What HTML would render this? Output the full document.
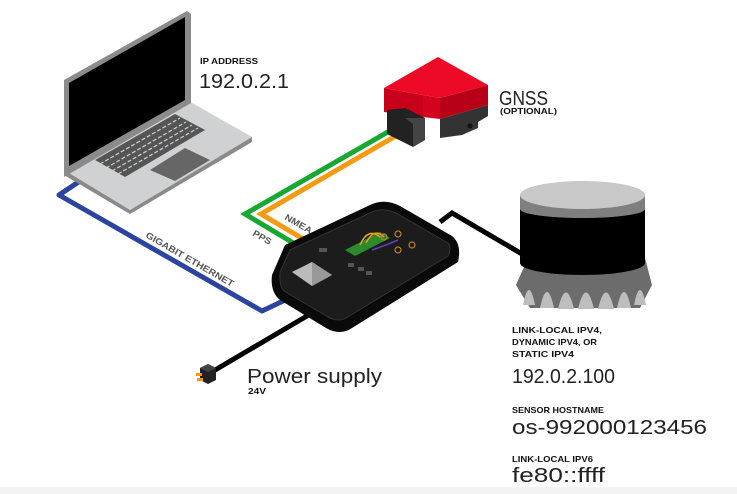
<!DOCTYPE html>
<html><head><style>
html,body{margin:0;padding:0;background:#fff;width:737px;height:494px;overflow:hidden}
svg{display:block}
text{font-family:"Liberation Sans",sans-serif;fill:#111}
.b{font-weight:bold;font-size:8.5px}
.l{font-size:20px;fill:#222}
.c{font-size:9px;fill:#555;font-weight:bold}
</style></head><body>
<svg width="737" height="494" viewBox="0 0 737 494">
<rect x="0" y="487" width="737" height="7" fill="#f3f3f3"/>
<!-- cables -->
<polyline points="80,181 59,195 262,311 298,294" fill="none" stroke="#2b44a0" stroke-width="5" stroke-linejoin="round"/>
<polyline points="400,125 245,214 300,247" fill="none" stroke="#17a832" stroke-width="5"/>
<polyline points="406,130 261,214 310,243" fill="none" stroke="#f59a12" stroke-width="5"/>
<polyline points="440,222 452,213 522,254" fill="none" stroke="#000" stroke-width="5"/>
<line x1="312" y1="313" x2="210" y2="373" stroke="#000" stroke-width="5"/>
<!-- power connector -->
<polygon points="200,368 208,364 216,368 216,380 208,384 200,380" fill="#222"/>
<polygon points="200,368 208,364 216,368 208,372" fill="#444"/>
<rect x="196" y="373" width="6" height="3" fill="#f59a12"/><rect x="197" y="378" width="6" height="3" fill="#f59a12"/>
<!-- laptop -->
<polygon points="64,170 187,100 252,137 130,210" fill="#cfd1d3"/>
<polygon points="64,170 130,210 252,137 252,142 130,214 64,175" fill="#8a8a8a"/>
<polygon points="64,80 187,11 191,14 191,103 64,177" fill="#8b8b8b"/>
<polygon points="69,83 185,17 185,100 69,166" fill="#000"/>
<polygon points="95,160 175,114 205,130 125,177" fill="#555"/>
<g stroke="#cfd1d3" stroke-width="1.2" fill="none" stroke-dasharray="4 2">
<line x1="100" y1="164" x2="180" y2="118"/><line x1="106" y1="168" x2="186" y2="122"/><line x1="112" y1="171" x2="192" y2="125"/><line x1="118" y1="174" x2="198" y2="128"/>
</g>
<polygon points="150,170 185,148 210,160 175,181" fill="#666"/>
<!-- GNSS -->
<polygon points="440,119 488,105 488,116 478,122 478,128 462,135 440,138" fill="#333"/>
<circle cx="470" cy="126" r="2.5" fill="#111"/>
<polygon points="384,88 438,57 488,85 440,98 423,95" fill="#ec0a27"/>
<polygon points="384,88 423,95 423,117 384,112" fill="#c8001c"/>
<polygon points="423,95 440,98 440,119 423,117" fill="#d3021f"/>
<polygon points="440,98 488,85 488,105 440,119" fill="#b80019"/>
<polygon points="387,110 405,108 425,118 425,140 413,147 387,134" fill="#222"/>
<polygon points="405,118 425,118 425,140 413,147 413,124" fill="#444"/>
<!-- interface box -->
<path d="M285,245 L370,205 Q385,198 400,206 L452,236 Q462,244 458,262 L352,328 Q340,336 326,328 L280,300 Q270,292 272,275 Z" fill="#0a0a0a"/>
<path d="M290,250 L372,212 Q384,207 396,213 L448,243 Q452,247 448,256 L346,318 Q339,322 330,318 L284,291 Q279,286 280,272 Z" fill="#1c1c1c" stroke="#333"/>
<polygon points="292,272 312,262 332,275 312,286" fill="#bbb"/>
<polygon points="312,262 332,275 312,286" fill="#999"/>
<polygon points="345,250 380,232 390,238 355,256" fill="#2c8a2c"/>
<path d="M360,245 q8,-18 20,-8 M366,243 q8,-16 18,-6" stroke="#e8a020" fill="none" stroke-width="1.5"/>
<path d="M372,250 q12,-4 26,-10" stroke="#6040c0" fill="none" stroke-width="1.5"/>
<g fill="none" stroke="#c08030" stroke-width="1.2"><circle cx="384" cy="237" r="3"/><circle cx="398" cy="234" r="3"/><circle cx="398" cy="250" r="3"/><circle cx="412" cy="245" r="3"/></g>
<g fill="#555"><rect x="348" y="263" width="6" height="4"/><rect x="358" y="267" width="6" height="4"/><rect x="366" y="271" width="6" height="4"/><rect x="319" y="248" width="8" height="4"/></g>
<!-- sensor -->
<polygon points="516,285 528,258 645,258 652,285 640,308 530,308" fill="#6c6c6c"/>
<g fill="#bdbdbd">
<path d="M523,305 q6,-30 12,0z M540,308 q7,-32 14,0z M558,309 q8,-33 16,0z M578,309 q8,-33 16,0z M598,309 q8,-33 16,0z M617,308 q7,-32 14,0z M634,305 q6,-30 12,0z"/>
</g>
<rect x="520" y="208" width="125" height="55" fill="#000"/>
<ellipse cx="582.5" cy="263" rx="62.5" ry="12" fill="#000"/>
<rect x="520" y="195" width="125" height="14" fill="#7f7f7f"/>
<ellipse cx="582.5" cy="209" rx="62.5" ry="9" fill="#7f7f7f"/>
<ellipse cx="582.5" cy="195" rx="62.5" ry="14" fill="#c8c8c8"/>
<!-- labels -->
<text class="b" x="200" y="64" textLength="58" lengthAdjust="spacingAndGlyphs">IP ADDRESS</text>
<text class="l" x="199" y="88" textLength="90" lengthAdjust="spacingAndGlyphs">192.0.2.1</text>
<text class="l" x="499" y="105" textLength="49" lengthAdjust="spacingAndGlyphs">GNSS</text>
<text class="b" x="500" y="114" textLength="57" lengthAdjust="spacingAndGlyphs">(OPTIONAL)</text>
<text class="c" transform="translate(284,219) rotate(30)" textLength="30" lengthAdjust="spacingAndGlyphs">NMEA</text>
<text class="c" transform="translate(252,235) rotate(30)" textLength="20" lengthAdjust="spacingAndGlyphs">PPS</text>
<text class="c" transform="translate(145,237) rotate(30)" textLength="100" lengthAdjust="spacingAndGlyphs">GIGABIT ETHERNET</text>
<text class="l" x="247" y="383" textLength="135" lengthAdjust="spacingAndGlyphs">Power supply</text>
<text class="b" x="248" y="394" textLength="18" lengthAdjust="spacingAndGlyphs">24V</text>
<text class="b" x="512" y="333" textLength="90" lengthAdjust="spacingAndGlyphs">LINK-LOCAL IPV4,</text>
<text class="b" x="512" y="345" textLength="85" lengthAdjust="spacingAndGlyphs">DYNAMIC IPV4, OR</text>
<text class="b" x="512" y="357" textLength="62" lengthAdjust="spacingAndGlyphs">STATIC IPV4</text>
<text class="l" x="512" y="383" textLength="103" lengthAdjust="spacingAndGlyphs">192.0.2.100</text>
<text class="b" x="512" y="413" textLength="92" lengthAdjust="spacingAndGlyphs">SENSOR HOSTNAME</text>
<text class="l" x="512" y="434" textLength="195" lengthAdjust="spacingAndGlyphs">os-992000123456</text>
<text class="b" x="512" y="462" textLength="81" lengthAdjust="spacingAndGlyphs">LINK-LOCAL IPV6</text>
<text class="l" x="512" y="482" textLength="93" lengthAdjust="spacingAndGlyphs">fe80::ffff</text>
</svg>
</body></html>
